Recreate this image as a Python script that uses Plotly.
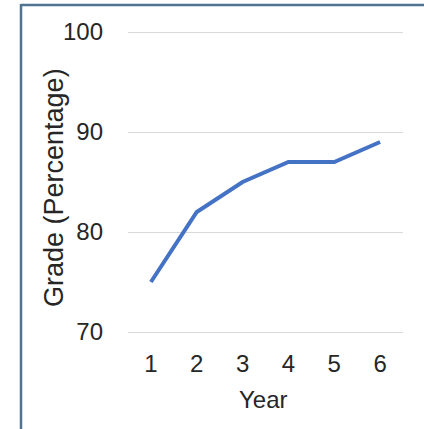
import plotly.graph_objects as go

years = ["1", "2", "3", "4", "5", "6"]
grades = [75, 82, 85, 87, 87, 89]
y_ticks = [70, 80, 90, 100]

fig = go.Figure(go.Scatter(
    x=years, y=grades, mode="lines",
    line=dict(color="#4472C4", width=4),
    hoverinfo="x+y",
))

W, H = 424, 429
L, R, T, B = 128, 21, 27, 92
pw, ph = W - L - R, H - T - B

def px_x(p):
    return (p - L) / pw

def px_y(p):
    return (H - B - p) / ph

TXT = "#262626"
fig.update_layout(
    width=W, height=H,
    margin=dict(l=L, r=R, t=T, b=B),
    paper_bgcolor="white", plot_bgcolor="white",
    font=dict(family="Liberation Sans, Arial, sans-serif", size=24, color=TXT),
    showlegend=False,
    xaxis=dict(
        type="category", range=[-0.5, 5.5],
        showgrid=False, zeroline=False, showline=False, ticks="",
        ticklabelstandoff=10,
        tickfont=dict(size=24, color=TXT),
    ),
    yaxis=dict(
        range=[69.5, 100.5], tickvals=y_ticks,
        showgrid=True, gridcolor="#d9d9d9", gridwidth=1,
        zeroline=False, showline=False, ticks="",
        ticklabelstandoff=24,
        tickfont=dict(size=24, color=TXT),
    ),
    annotations=[
        dict(text="Year", xref="paper", yref="paper",
             x=px_x(263), y=px_y(399), xanchor="center", yanchor="middle",
             showarrow=False, font=dict(size=24, color=TXT)),
        dict(text="Grade (Percentage)", xref="paper", yref="paper",
             x=px_x(54), y=px_y(188), xanchor="center", yanchor="middle",
             textangle=-90, showarrow=False, font=dict(size=27, color=TXT)),
    ],
    shapes=[
        dict(type="line", xref="paper", yref="paper",
             x0=px_x(21), x1=px_x(W + 5), y0=px_y(5), y1=px_y(5),
             line=dict(color="#4f7391", width=2.5)),
        dict(type="line", xref="paper", yref="paper",
             x0=px_x(21), x1=px_x(21), y0=px_y(4), y1=px_y(H + 5),
             line=dict(color="#4f7391", width=2.5)),
    ],
)

fig.write_html("out.html", config={"displayModeBar": False},
               post_script="document.body.style.margin='0';")
